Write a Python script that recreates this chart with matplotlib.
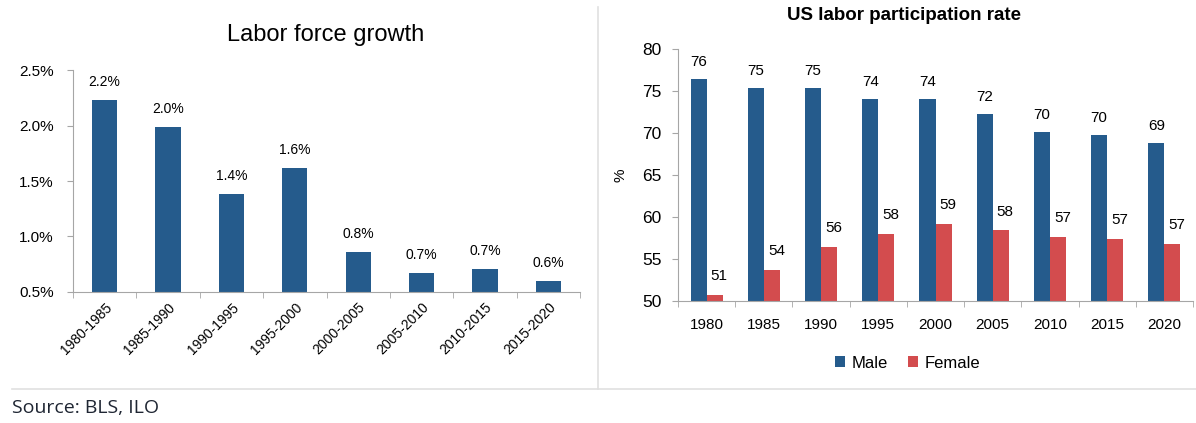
import matplotlib.pyplot as plt
import numpy as np

plt.rcParams['font.family'] = ['Liberation Sans', 'DejaVu Sans']

# left chart data
periods = ['1980-1985', '1985-1990', '1990-1995', '1995-2000',
           '2000-2005', '2005-2010', '2010-2015', '2015-2020']
growth = [2.23, 1.99, 1.38, 1.62, 0.86, 0.67, 0.71, 0.60]
growth_labels = ['2.2%', '2.0%', '1.4%', '1.6%', '0.8%', '0.7%', '0.7%', '0.6%']

# right chart data
years = ['1980', '1985', '1990', '1995', '2000', '2005', '2010', '2015', '2020']
male = [76.4, 75.4, 75.4, 74.0, 74.0, 72.3, 70.1, 69.8, 68.8]
female = [50.7, 53.7, 56.4, 58.0, 59.2, 58.4, 57.6, 57.4, 56.8]
male_labels = ['76', '75', '75', '74', '74', '72', '70', '70', '69']
female_labels = ['51', '54', '56', '58', '59', '58', '57', '57', '57']

blue = '#255b8c'
red = '#d34c4e'
grey = '#a6a6a6'

fig = plt.figure(figsize=(11.96, 4.23), dpi=100)

# ---- left: labor force growth
ax1 = fig.add_axes([0.061, 0.3097, 0.424, 0.5248])
x1 = np.arange(len(periods))
ax1.bar(x1, growth, width=0.4, bottom=0, color=blue)
for xi, v, lab in zip(x1, growth, growth_labels):
    ax1.text(xi, v + 0.1, lab, ha='center', va='bottom', fontsize=10)
ax1.set_ylim(0.5, 2.5)
ax1.set_xlim(-0.5, len(periods) - 0.5)
ax1.set_yticks([0.5, 1.0, 1.5, 2.0, 2.5])
ax1.set_yticklabels(['0.5%', '1.0%', '1.5%', '2.0%', '2.5%'], fontsize=11)
ax1.set_xticks(x1)
ax1.set_xticklabels(periods, rotation=45, ha='right', rotation_mode='anchor', fontsize=10)
ax1.tick_params(axis='x', length=0, pad=6)
ax1.set_xticks(np.arange(-0.5, len(periods)), minor=True)
ax1.tick_params(axis='x', which='minor', length=4, color=grey)
ax1.tick_params(axis='y', length=4, color=grey, pad=10)
for s in ['top', 'right']:
    ax1.spines[s].set_visible(False)
ax1.spines['left'].set_color(grey)
ax1.spines['bottom'].set_color(grey)
fig.text(0.272, 1 - 35 / 423, 'Labor force growth', ha='center', va='center', fontsize=17)

# ---- right: participation rate
ax2 = fig.add_axes([0.5669, 0.2884, 0.4306, 0.5957])
x2 = np.arange(len(years))
w = 0.28
ax2.bar(x2 - w / 2, male, width=w, bottom=0, color=blue, label='Male')
ax2.bar(x2 + w / 2, female, width=w, bottom=0, color=red, label='Female')
for xi, v, lab in zip(x2, male, male_labels):
    ax2.text(xi - w / 2, v + 1.2, lab, ha='center', va='bottom', fontsize=11)
for xi, v, lab in zip(x2, female, female_labels):
    ax2.text(xi + w / 2 + 0.08, v + 1.4, lab, ha='center', va='bottom', fontsize=11)
ax2.set_ylim(50, 80)
ax2.set_xlim(-0.5, len(years) - 0.5)
ax2.set_yticks(range(50, 81, 5))
ax2.tick_params(axis='y', labelsize=12.5, length=4, color=grey, pad=8)
ax2.set_xticks(x2)
ax2.set_xticklabels(years, fontsize=11)
ax2.tick_params(axis='x', length=0, pad=12)
ax2.set_xticks(np.arange(-0.5, len(years)), minor=True)
ax2.tick_params(axis='x', which='minor', length=4, color=grey)
ax2.set_ylabel('%', fontsize=11, labelpad=10)
for s in ['top', 'right']:
    ax2.spines[s].set_visible(False)
ax2.spines['left'].set_color(grey)
ax2.spines['bottom'].set_color(grey)
fig.text(904 / 1196, 1 - 15 / 423, 'US labor participation rate', ha='center', va='center',
         fontsize=13.5, fontweight='bold')
ax2.legend(loc='center', bbox_to_anchor=(908 / 1196, 1 - 363 / 423),
           bbox_transform=fig.transFigure, ncol=2, frameon=False, fontsize=12,
           handlelength=0.6, handleheight=0.6, handletextpad=0.4, columnspacing=1.2)

# frame lines and source
fig.add_artist(plt.Line2D([12 / 1196, 1], [1 - 389 / 423] * 2, color='#e0e0e0', lw=1.2))
fig.add_artist(plt.Line2D([598 / 1196] * 2, [1 - 389 / 423, 1 - 7 / 423], color='#e0e0e0', lw=1.2))
fig.text(12 / 1196, 1 - 408 / 423, 'Source: BLS, ILO', ha='left', va='center',
         fontsize=14, family='Open Sans', color='#1f2633')

fig.savefig('out.png', dpi=100)
